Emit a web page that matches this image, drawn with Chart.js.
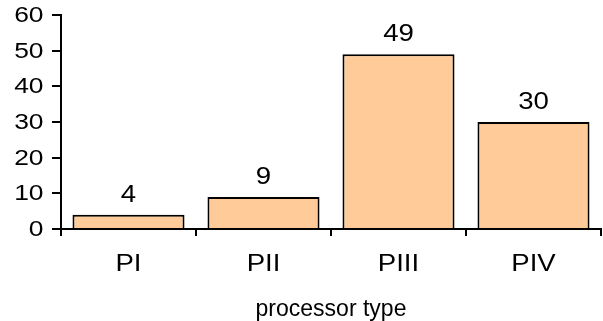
<!DOCTYPE html>
<html>
<head>
<meta charset="utf-8">
<script src="https://cdn.jsdelivr.net/npm/chart.js@4.4.1/dist/chart.umd.min.js"></script>
<style>
  html, body { margin: 0; padding: 0; background: #fff; }
  #wrap { width: 603px; height: 321px; }
</style>
</head>
<body>
<div id="wrap"><canvas id="c" width="603" height="321"></canvas></div>
<script>
const categories = ['PI', 'PII', 'PIII', 'PIV'];
const counts = [4, 9, 49, 30];
const yTicks = [0, 10, 20, 30, 40, 50, 60];
const axisTitle = 'processor type';

const FONT = "'Liberation Sans', Arial, sans-serif";
const WIDEN = 1.2; // labels are set in a horizontally widened face

function wideText(ctx, text, x, y, align, baseline, size) {
  ctx.save();
  ctx.font = size + 'px ' + FONT;
  ctx.textAlign = align;
  ctx.textBaseline = baseline;
  ctx.translate(x, y);
  ctx.scale(WIDEN, 1);
  ctx.fillText(text, 0, 0);
  ctx.restore();
}

// Tick labels, bar values and the category-axis title
const chartText = {
  id: 'chartText',
  afterDraw(chart) {
    const ctx = chart.ctx;
    const xs = chart.scales.x, ys = chart.scales.y;
    const area = chart.chartArea;
    ctx.save();
    ctx.fillStyle = '#000';

    yTicks.forEach(v => {
      wideText(ctx, String(v), 43.5, ys.getPixelForValue(v) + 1, 'right', 'middle', 22);
    });

    categories.forEach((c, i) => {
      wideText(ctx, c, xs.getPixelForValue(i), 265, 'center', 'middle', 23);
    });

    chart.getDatasetMeta(0).data.forEach((bar, i) => {
      wideText(ctx, String(counts[i]), bar.x, bar.y - 13, 'center', 'alphabetic', 23);
    });

    ctx.font = '23px ' + FONT;
    ctx.textAlign = 'center';
    ctx.textBaseline = 'alphabetic';
    ctx.fillText(axisTitle, (area.left + area.right) / 2, 316);
    ctx.restore();
  }
};

new Chart(document.getElementById('c'), {
  type: 'bar',
  data: {
    labels: categories,
    datasets: [{
      data: counts,
      backgroundColor: '#FFCC99',
      borderColor: '#000',
      borderWidth: 2,
      borderSkipped: 'bottom',
      categoryPercentage: 1,
      barPercentage: 0.83
    }]
  },
  options: {
    responsive: false,
    animation: false,
    devicePixelRatio: 1,
    layout: { padding: { top: 15, right: 2, left: 0, bottom: 0 } },
    plugins: { legend: { display: false }, tooltip: { enabled: false } },
    scales: {
      x: {
        grid: { display: true, drawOnChartArea: false, drawTicks: true, tickLength: 7, color: '#000', lineWidth: 2, offset: true },
        border: { display: true, color: '#000', width: 2, z: 1 },
        ticks: { display: false },
        afterFit(scale) { scale.height = 92; }
      },
      y: {
        min: 0, max: 60,
        afterBuildTicks(scale) { scale.ticks = yTicks.map(v => ({ value: v })); },
        grid: { display: true, drawOnChartArea: false, drawTicks: true, tickLength: 9, color: '#000', lineWidth: 2 },
        border: { display: true, color: '#000', width: 2 },
        ticks: { display: false },
        afterFit(scale) { scale.width = 61; }
      }
    }
  },
  plugins: [chartText]
});
</script>
</body>
</html>
